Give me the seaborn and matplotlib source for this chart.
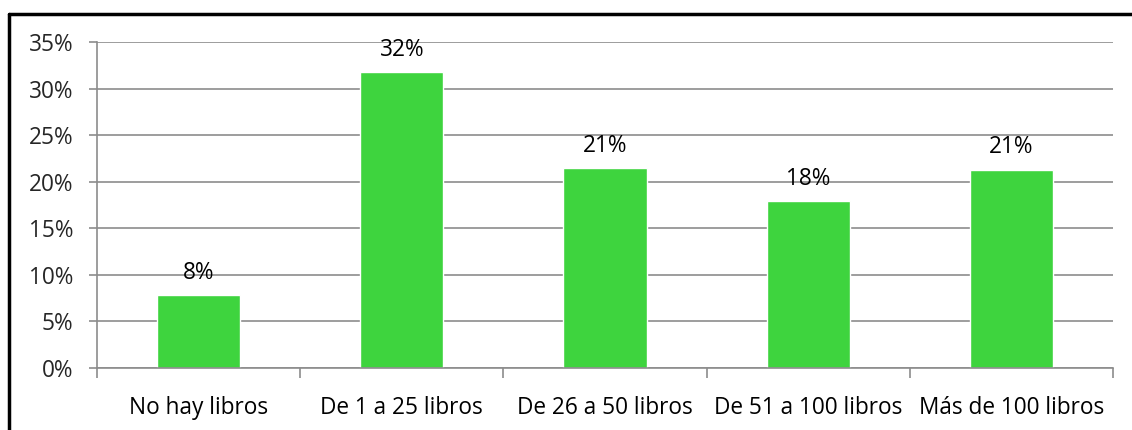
import matplotlib
matplotlib.use("Agg")
import matplotlib.pyplot as plt
import seaborn as sns
import pandas as pd
from matplotlib.lines import Line2D
from matplotlib.ticker import FuncFormatter, FixedLocator

categories = ["No hay libros", "De 1 a 25 libros", "De 26 a 50 libros", "De 51 a 100 libros", "Más de 100 libros"]
values = [0.078, 0.318, 0.215, 0.179, 0.213]
labels = ["8%", "32%", "21%", "18%", "21%"]
yticks = [0, 0.05, 0.10, 0.15, 0.20, 0.25, 0.30, 0.35]

sns.set_theme(style="white")
plt.rcParams["font.family"] = ["Open Sans", "DejaVu Sans"]

df = pd.DataFrame({"cat": categories, "val": values})

fig = plt.figure(figsize=(11.32, 4.30), dpi=100)
ax = fig.add_axes([97/1132, 62/430, (1113-97)/1132, (368-42)/430])

grid_c = "#8c8c8c"
for y in yticks:
    ax.axhline(y, color=grid_c, lw=1.2, zorder=0)

sns.barplot(data=df, x="cat", y="val", color="#3ED43E", width=0.41, saturation=1, ax=ax, zorder=2)

ax.set_ylim(0, 0.35)
ax.set_xlim(-0.5, 4.5)
ax.set_yticks(yticks)
ax.yaxis.set_major_formatter(FuncFormatter(lambda v, p: f"{v*100:.0f}%"))
ax.set_xlabel("")
ax.set_ylabel("")

fs = 16.3
ax.xaxis.set_minor_locator(FixedLocator([i - 0.5 for i in range(len(categories) + 1)]))
ax.tick_params(axis="x", which="major", length=0, pad=20, labelsize=fs, colors="black")
ax.tick_params(axis="x", which="minor", length=7, width=1.2, color=grid_c, direction="out", bottom=True)
ax.tick_params(axis="y", which="major", length=6, width=1.2, color=grid_c, direction="out", left=True, labelsize=fs, pad=11)

for s in ["top", "right"]:
    ax.spines[s].set_visible(False)
for s in ["left", "bottom"]:
    ax.spines[s].set_color(grid_c)
    ax.spines[s].set_linewidth(1.2)

for i, (v, lab) in enumerate(zip(values, labels)):
    ax.annotate(lab, (i, v), xytext=(0, 16), textcoords="offset points",
                ha="center", va="center", fontsize=fs, color="black", zorder=3)

# figure border (top and left visible)
fig.add_artist(Line2D([9/1132, 1.0], [1 - 14/430, 1 - 14/430], transform=fig.transFigure, color="black", lw=2.5))
fig.add_artist(Line2D([9/1132, 9/1132], [0, 1 - 14/430], transform=fig.transFigure, color="black", lw=2.5))

fig.savefig("out.png", dpi=100)
